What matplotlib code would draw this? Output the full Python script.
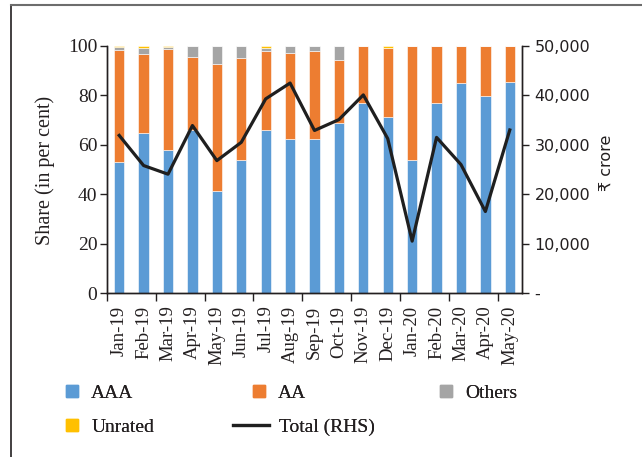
import numpy as np
import matplotlib
matplotlib.use('Agg')
import matplotlib.pyplot as plt
from matplotlib.lines import Line2D
from matplotlib.ticker import FuncFormatter

# data
months = ['Jan-19', 'Feb-19', 'Mar-19', 'Apr-19', 'May-19', 'Jun-19', 'Jul-19', 'Aug-19', 'Sep-19',
          'Oct-19', 'Nov-19', 'Dec-19', 'Jan-20', 'Feb-20', 'Mar-20', 'Apr-20', 'May-20']
aaa = [52.9, 64.6, 57.7, 66.0, 41.3, 53.8, 66.0, 62.4, 62.5, 69.0, 77.0, 71.4, 54.0, 76.8, 85.0, 79.8, 85.5]
aa_cum = [98.4, 96.9, 98.8, 95.6, 92.7, 95.2, 98.0, 97.2, 97.8, 94.4, 100, 99.2, 100, 100, 100, 100, 100]
others = [1.2, 2.4, 0.7, 4.4, 7.3, 4.8, 1.3, 2.8, 2.2, 5.6, 0, 0, 0, 0, 0, 0, 0]
unrated = [0.4, 0.7, 0.5, 0, 0, 0, 0.7, 0, 0, 0, 0, 0.8, 0, 0, 0, 0, 0]
total = [31900, 25800, 24050, 33900, 26800, 30500, 39300, 42500, 32900, 35100, 40100, 31250,
         10500, 31500, 26000, 16500, 33000]

aa = [c - a for c, a in zip(aa_cum, aaa)]

c_aaa = '#5B9BD5'
c_aa = '#ED7D31'
c_oth = '#A5A5A5'
c_unr = '#FFC000'
txt = '#231F20'
serif = ['Liberation Serif', 'DejaVu Serif']
sans = ['DejaVu Sans']

plt.rcParams['font.family'] = serif
plt.rcParams['text.color'] = txt

fig = plt.figure(figsize=(6.42, 4.57), dpi=100)
ax = fig.add_axes([107/642, 1-293/457, 415/642, 247/457])
ax2 = ax.twinx()

x = np.arange(len(months))
w = 0.42
b1 = np.array(aaa)
b2 = b1 + np.array(aa)
b3 = b2 + np.array(others)
ax.bar(x, aaa, w, color=c_aaa, edgecolor='white', linewidth=0.4)
ax.bar(x, aa, w, bottom=b1, color=c_aa, edgecolor='white', linewidth=0.4)
ax.bar(x, others, w, bottom=b2, color=c_oth, edgecolor='white', linewidth=0.4)
ax.bar(x, unrated, w, bottom=b3, color=c_unr, edgecolor='white', linewidth=0.4)

ax2.plot(x, total, color='#1f1f1f', lw=2.3, zorder=5)
ax.set_zorder(1)
ax2.set_zorder(2)
ax2.patch.set_visible(False)

ax.set_xlim(-0.5, len(months) - 0.5)
ax.set_ylim(0, 100)
ax2.set_ylim(0, 50000)
ax.set_yticks(range(0, 101, 20))
ax2.set_yticks(range(0, 50001, 10000))
ax2.yaxis.set_major_formatter(FuncFormatter(lambda v, p: '-' if v == 0 else f'{int(v):,}'))

ax.set_xticks(x)
ax.set_xticklabels(months, rotation=90, fontsize=13.5, color=txt)
ax.set_xticks(np.arange(-0.5, len(months), 2), minor=True)
ax.tick_params(axis='x', which='major', length=0, pad=9)
ax.tick_params(axis='x', which='minor', length=6, width=1, color=txt)
ax.tick_params(axis='y', length=5, width=1, color=txt, labelsize=14, labelcolor=txt, pad=2)
ax2.tick_params(axis='y', length=5, width=1, color=txt, labelsize=11.5, labelcolor=txt, pad=4)
for lab in ax2.get_yticklabels():
    lab.set_family(sans)

for a in (ax, ax2):
    a.spines['top'].set_visible(False)
    for s in ('left', 'right', 'bottom'):
        a.spines[s].set_color(txt)
        a.spines[s].set_linewidth(1)

fig.text(45/642, 1-170/457, 'Share (in per cent)', rotation=90, ha='center', va='center',
         fontsize=14.5, color=txt)
fig.text(607/642, 1-163/457, '₹ crore', rotation=90, ha='center', va='center',
         fontsize=11.5, color=txt, family=sans)

# legend, one entry per spot
entries = [
    (Line2D([], [], ls='none', marker='s', ms=8, color=c_aaa), 'AAA', 62, 393),
    (Line2D([], [], ls='none', marker='s', ms=8, color=c_aa), 'AA', 249, 393),
    (Line2D([], [], ls='none', marker='s', ms=8, color=c_oth), 'Others', 436, 393),
    (Line2D([], [], ls='none', marker='s', ms=8, color=c_unr), 'Unrated', 62, 427),
    (Line2D([], [], color='#1f1f1f', lw=2.3), 'Total (RHS)', 233, 427),
]
for h, lab, lx, ly in entries:
    hl = 1.85 if lab == 'Total (RHS)' else 1.0
    leg = fig.legend([h], [lab], loc='center left', bbox_to_anchor=(lx/642, 1-ly/457),
                     frameon=False, fontsize=14, handlelength=hl, handletextpad=0.5,
                     borderpad=0, borderaxespad=0)
    fig.add_artist(leg)

# figure frame (left and top)
fig.add_artist(Line2D([11/642, 11/642], [0, 1-5/457], color='#231F20', lw=1.2))
fig.add_artist(Line2D([11/642, 1], [1-5/457, 1-5/457], color='#6d6d6d', lw=1.5))

fig.savefig('out.png', dpi=100)
